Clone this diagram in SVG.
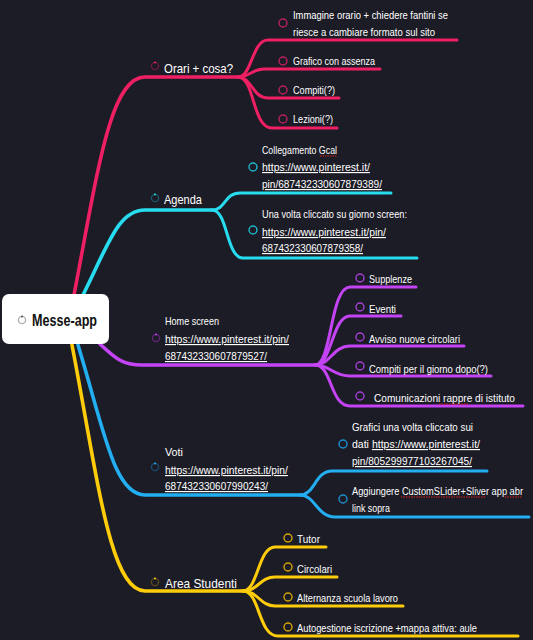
<svg xmlns="http://www.w3.org/2000/svg" width="533" height="640" viewBox="0 0 533 640">
<style>
.t{font-family:"Liberation Sans",Arial,sans-serif;fill:#ffffff;font-size:11.5px}
.m{font-size:13.5px}
.u{text-decoration:underline}
.br{fill:none;stroke-linecap:round;stroke-width:3.6}
.sb{fill:none;stroke-linecap:round;stroke-width:3}
.pk{stroke:#ee1f63}.cy{stroke:#27dcee}.pu{stroke:#c443f5}.bl{stroke:#22aef0}.ye{stroke:#ffcc0a}
.ring{fill:none;stroke-width:1.4}
.sq{fill:none;stroke:#e02020;stroke-width:1;stroke-dasharray:1.5 1}
</style>
<rect width="533" height="640" fill="#1c1c26"/>
<g id="connectors">
<path class="br pk" d="M74,295 C98,170 110,77 145,77 L238,77"/>
<path class="br cy" d="M83,295 C108,245 118,210 145,210 L212,210"/>
<path class="br pu" d="M100,344 C115,358 122,365 142,365 L315,365"/>
<path class="br bl" d="M78,345 C104,430 114,495 145,495 L300,495"/>
<path class="br ye" d="M72,345 C98,480 110,591 145,591 L243,591"/>
<path class="sb pk" d="M238,77 C252,77 252,40 268,40 L457,40"/>
<path class="sb pk" d="M238,77 C250,77 252,69 264,69 L380,69"/>
<path class="sb pk" d="M238,77 C252,77 252,98 268,98 L339,98"/>
<path class="sb pk" d="M238,77 C255,77 252,128 272,128 L337,128"/>
<path class="sb cy" d="M212,210 C226,210 224,193 240,193 L391,193"/>
<path class="sb cy" d="M212,210 C228,210 226,258 243,258 L417,258"/>
<path class="sb pu" d="M315,365 C332,365 330,287 350,287 L416,287"/>
<path class="sb pu" d="M315,365 C332,365 332,316 350,316 L401,316"/>
<path class="sb pu" d="M315,365 C330,365 333,346 350,346 L464,346"/>
<path class="sb pu" d="M315,365 C330,365 333,376 350,376 L491,376"/>
<path class="sb pu" d="M315,365 C332,365 330,406 350,406 L523,406"/>
<path class="sb bl" d="M300,495 C315,495 315,471 332,471 L487,471"/>
<path class="sb bl" d="M300,495 C315,495 317,517 335,517 L529,517"/>
<path class="sb ye" d="M243,591 C258,591 258,547 275,547 L326,547"/>
<path class="sb ye" d="M243,591 C258,591 260,577 275,577 L337,577"/>
<path class="sb ye" d="M243,591 C258,591 260,606 275,606 L403,606"/>
<path class="sb ye" d="M243,591 C260,591 258,636 278,636 L518,636"/>
</g>
<g id="root">
<rect x="2" y="294" width="107" height="50" rx="7" fill="#ffffff"/>
<circle cx="22" cy="320" r="3.6" class="ring" stroke="#b0b0b0"/>
<circle cx="22" cy="316.4" r="1" fill="#555"/>
<text x="32" y="326" class="t" style="font-size:16px;font-weight:bold;fill:#111" textLength="65" lengthAdjust="spacingAndGlyphs">Messe-app</text>
</g>
<g id="orari">
<circle cx="155" cy="66" r="3.6" class="ring" stroke="#6e1a3c"/>
<circle cx="155" cy="62.4" r="1" fill="#ee1f63"/>
<text x="164" y="73" class="t m" textLength="69" lengthAdjust="spacingAndGlyphs">Orari + cosa?</text>
</g>
<g id="orari-1">
<circle cx="283" cy="23" r="4" class="ring" stroke="#b8215a"/>
<text x="293" y="19" class="t" textLength="155" lengthAdjust="spacingAndGlyphs">Immagine orario + chiedere fantini se</text>
<text x="293" y="36" class="t" textLength="142" lengthAdjust="spacingAndGlyphs">riesce a cambiare formato sul sito</text>
</g>
<g id="orari-2">
<circle cx="283" cy="61" r="4" class="ring" stroke="#b8215a"/>
<text x="293" y="65" class="t" textLength="82" lengthAdjust="spacingAndGlyphs">Grafico con assenza</text>
</g>
<g id="orari-3">
<circle cx="283" cy="90" r="4" class="ring" stroke="#b8215a"/>
<text x="293" y="94" class="t" textLength="42" lengthAdjust="spacingAndGlyphs">Compiti(?)</text>
</g>
<g id="orari-4">
<circle cx="283" cy="119" r="4" class="ring" stroke="#b8215a"/>
<text x="293" y="123" class="t" textLength="40" lengthAdjust="spacingAndGlyphs">Lezioni(?)</text>
</g>
<g id="agenda">
<circle cx="155" cy="198" r="3.6" class="ring" stroke="#1a5666"/>
<circle cx="155" cy="194.4" r="1" fill="#27dcee"/>
<text x="164" y="204" class="t m" textLength="38" lengthAdjust="spacingAndGlyphs">Agenda</text>
</g>
<g id="agenda-1">
<circle cx="253" cy="167" r="4" class="ring" stroke="#1fb4c8"/>
<text x="262" y="154" class="t" textLength="75" lengthAdjust="spacingAndGlyphs">Collegamento Gcal</text>
<path class="sq" d="M320,156 L337,156"/>
<text x="262" y="171" class="t u" textLength="108" lengthAdjust="spacingAndGlyphs">https://www.pinterest.it/</text>
<text x="262" y="188" class="t u" textLength="120" lengthAdjust="spacingAndGlyphs">pin/687432330607879389/</text>
</g>
<g id="agenda-2">
<circle cx="253" cy="230" r="4" class="ring" stroke="#1fb4c8"/>
<text x="262" y="218" class="t" textLength="145" lengthAdjust="spacingAndGlyphs">Una volta cliccato su giorno screen:</text>
<text x="262" y="236" class="t u" textLength="124" lengthAdjust="spacingAndGlyphs">https://www.pinterest.it/pin/</text>
<text x="262" y="252" class="t u" textLength="101" lengthAdjust="spacingAndGlyphs">687432330607879358/</text>
</g>
<g id="home">
<circle cx="156" cy="338" r="3.6" class="ring" stroke="#5e2478"/>
<circle cx="156" cy="334.4" r="1" fill="#c443f5"/>
<text x="165" y="325" class="t" textLength="54" lengthAdjust="spacingAndGlyphs">Home screen</text>
<text x="165" y="343" class="t u" textLength="124" lengthAdjust="spacingAndGlyphs">https://www.pinterest.it/pin/</text>
<text x="165" y="360" class="t u" textLength="102" lengthAdjust="spacingAndGlyphs">687432330607879527/</text>
</g>
<g id="home-1">
<circle cx="360" cy="278" r="4" class="ring" stroke="#a53ed8"/>
<text x="369" y="283" class="t" textLength="43" lengthAdjust="spacingAndGlyphs">Supplenze</text>
</g>
<g id="home-2">
<circle cx="360" cy="307" r="4" class="ring" stroke="#a53ed8"/>
<text x="369" y="313" class="t" textLength="27" lengthAdjust="spacingAndGlyphs">Eventi</text>
</g>
<g id="home-3">
<circle cx="360" cy="337" r="4" class="ring" stroke="#a53ed8"/>
<text x="369" y="343" class="t" textLength="91" lengthAdjust="spacingAndGlyphs">Avviso nuove circolari</text>
</g>
<g id="home-4">
<circle cx="360" cy="366" r="4" class="ring" stroke="#a53ed8"/>
<text x="369" y="373" class="t" textLength="119" lengthAdjust="spacingAndGlyphs">Compiti per il giorno dopo(?)</text>
</g>
<g id="home-5">
<circle cx="360" cy="396" r="4" class="ring" stroke="#a53ed8"/>
<text x="374" y="402" class="t" textLength="141" lengthAdjust="spacingAndGlyphs">Comunicazioni rappre di istituto</text>
<path class="sq" d="M439,404 L468,404"/>
</g>
<g id="voti">
<circle cx="155" cy="467" r="3.6" class="ring" stroke="#1a4a70"/>
<circle cx="155" cy="463.4" r="1" fill="#22aef0"/>
<text x="165" y="456" class="t" textLength="18" lengthAdjust="spacingAndGlyphs">Voti</text>
<text x="165" y="474" class="t u" textLength="123" lengthAdjust="spacingAndGlyphs">https://www.pinterest.it/pin/</text>
<text x="165" y="490" class="t u" textLength="103" lengthAdjust="spacingAndGlyphs">687432330607990243/</text>
</g>
<g id="voti-1">
<circle cx="343" cy="444" r="4" class="ring" stroke="#1c8fd0"/>
<text x="352" y="431" class="t" textLength="121" lengthAdjust="spacingAndGlyphs">Grafici una volta cliccato sui</text>
<text x="352" y="448" class="t" textLength="128" lengthAdjust="spacingAndGlyphs">dati <tspan class="u">https://www.pinterest.it/</tspan></text>
<text x="352" y="465" class="t u" textLength="120" lengthAdjust="spacingAndGlyphs">pin/805299977103267045/</text>
</g>
<g id="voti-2">
<circle cx="343" cy="499" r="4" class="ring" stroke="#1c8fd0"/>
<text x="352" y="495" class="t" style="font-size:10px" textLength="171" lengthAdjust="spacingAndGlyphs">Aggiungere CustomSLider+Sliver app abr</text>
<path class="sq" d="M401,497 L486,497 M505,497 L522,497"/>
<text x="352" y="512" class="t" textLength="38" lengthAdjust="spacingAndGlyphs">link sopra</text>
</g>
<g id="area">
<circle cx="155" cy="582" r="3.6" class="ring" stroke="#5a4818"/>
<circle cx="155" cy="578.4" r="1" fill="#ffcc0a"/>
<text x="165" y="588" class="t m" textLength="72" lengthAdjust="spacingAndGlyphs">Area Studenti</text>
</g>
<g id="area-1">
<circle cx="288" cy="538" r="4" class="ring" stroke="#d4a408"/>
<text x="297" y="543" class="t" textLength="23" lengthAdjust="spacingAndGlyphs">Tutor</text>
</g>
<g id="area-2">
<circle cx="288" cy="567" r="4" class="ring" stroke="#d4a408"/>
<text x="297" y="573" class="t" textLength="35" lengthAdjust="spacingAndGlyphs">Circolari</text>
</g>
<g id="area-3">
<circle cx="288" cy="597" r="4" class="ring" stroke="#d4a408"/>
<text x="297" y="602" class="t" textLength="101" lengthAdjust="spacingAndGlyphs">Alternanza scuola lavoro</text>
</g>
<g id="area-4">
<circle cx="288" cy="627" r="4" class="ring" stroke="#d4a408"/>
<text x="297" y="632" class="t" textLength="180" lengthAdjust="spacingAndGlyphs">Autogestione iscrizione +mappa attiva: aule</text>
</g>
</svg>
